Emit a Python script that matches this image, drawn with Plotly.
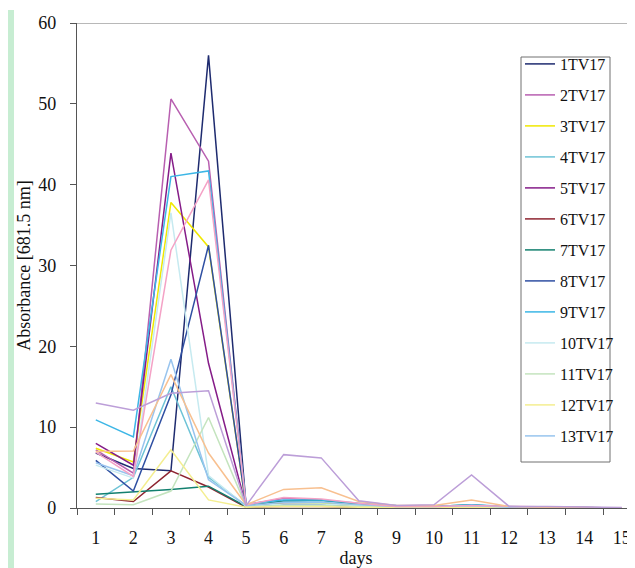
import plotly.graph_objects as go

days = list(range(1, 16))

series_names = ["1TV17", "2TV17", "3TV17", "4TV17", "5TV17", "6TV17", "7TV17",
                "8TV17", "9TV17", "10TV17", "11TV17", "12TV17", "13TV17",
                "14TV17", "15TV17", "16TV17"]

s1 = [6.8, 4.9, 4.6, 56.0, 0.3, 0.5, 0.5, 0.3, 0.1, 0.1, 0.2, 0.1, 0.1, 0.05, 0.0]
s2 = [7.2, 4.3, 50.6, 42.9, 0.4, 1.2, 1.0, 0.5, 0.2, 0.2, 0.3, 0.1, 0.1, 0.05, 0.0]
s3 = [7.4, 5.7, 37.8, 32.3, 0.2, 0.6, 0.6, 0.3, 0.1, 0.1, 0.2, 0.1, 0.1, 0.0, 0.0]
s4 = [0.8, 3.8, 15.0, 3.8, 0.3, 0.8, 0.9, 0.5, 0.2, 0.2, 0.3, 0.1, 0.1, 0.0, 0.0]
s5 = [8.0, 5.3, 43.9, 17.9, 0.2, 0.5, 0.4, 0.2, 0.1, 0.1, 0.2, 0.1, 0.1, 0.0, 0.0]
s6 = [1.3, 0.8, 4.6, 2.6, 0.1, 0.2, 0.2, 0.1, 0.1, 0.0, 0.1, 0.0, 0.0, 0.0, 0.0]
s7 = [1.7, 2.0, 2.3, 2.7, 0.2, 0.9, 1.0, 0.5, 0.2, 0.2, 0.4, 0.1, 0.1, 0.0, 0.0]
s8 = [5.9, 2.1, 14.0, 32.5, 0.2, 0.4, 0.4, 0.2, 0.1, 0.1, 0.2, 0.1, 0.0, 0.0, 0.0]
s9 = [10.9, 8.8, 41.0, 41.7, 0.5, 1.0, 1.0, 0.6, 0.3, 0.2, 0.4, 0.2, 0.1, 0.05, 0.0]
s10 = [5.3, 3.7, 36.5, 4.0, 0.2, 0.5, 0.5, 0.3, 0.1, 0.1, 0.2, 0.1, 0.1, 0.0, 0.0]
s11 = [0.5, 0.4, 2.1, 11.2, 0.2, 0.3, 0.3, 0.2, 0.1, 0.1, 0.1, 0.1, 0.0, 0.0, 0.0]
s12 = [1.2, 1.0, 7.2, 1.0, 0.1, 0.2, 0.2, 0.1, 0.1, 0.0, 0.1, 0.0, 0.0, 0.0, 0.0]
s13 = [5.6, 4.0, 18.4, 3.5, 0.3, 0.7, 0.7, 0.4, 0.2, 0.2, 0.3, 0.1, 0.1, 0.0, 0.0]
s14 = [6.9, 3.9, 31.9, 40.6, 0.4, 1.3, 1.1, 0.6, 0.2, 0.2, 0.3, 0.2, 0.1, 0.05, 0.0]
s15 = [7.0, 7.05, 16.5, 6.8, 0.4, 2.3, 2.5, 0.8, 0.3, 0.3, 1.0, 0.2, 0.1, 0.05, 0.0]
s16 = [13.0, 12.1, 14.2, 14.5, 0.3, 6.6, 6.2, 0.9, 0.3, 0.4, 4.1, 0.2, 0.2, 0.1, 0.05]

values = [s1, s2, s3, s4, s5, s6, s7, s8, s9, s10, s11, s12, s13, s14, s15, s16]
colors = ["#1E2B6F", "#B85FB0", "#F0E800", "#6EC3D6", "#851C88", "#8E2430",
          "#13806F", "#2F4FA2", "#3CB6E6", "#C6EAF0", "#C4E4BE", "#F4EE90",
          "#98C4EE", "#F4A2C6", "#F8C090", "#BC9ED8"]
legend_count = 13

y_ticks = [0, 10, 20, 30, 40, 50, 60]

FONT = "Liberation Serif, Times New Roman, serif"

# page has an 8px body margin; figure sized to fit the 635x568 window
W, H = 627, 560
ML, MR, MT, MB = 69, 0, 15, 60
PW = W - ML - MR
PH = H - MT - MB


def px_x(page_x):
    return (page_x - 8 - ML) / PW


def px_y(page_y):
    return (H - MB - (page_y - 8)) / PH


fig = go.Figure()
for i, (name, vals, col) in enumerate(zip(series_names, values, colors)):
    fig.add_trace(go.Scatter(
        x=days, y=vals, mode="lines", name=name,
        line=dict(color=col, width=1.5),
        showlegend=i < legend_count,
        legendgroup=name,
    ))

fig.update_layout(
    width=W, height=H,
    margin=dict(l=ML, r=MR, t=MT, b=MB),
    paper_bgcolor="white", plot_bgcolor="white",
    font=dict(family=FONT, size=18, color="#111111"),
    showlegend=True,
    legend=dict(
        x=px_x(520), y=px_y(47), xanchor="left", yanchor="top",
        borderwidth=0, bgcolor="rgba(0,0,0,0)",
        font=dict(family=FONT, size=16, color="#111111"),
        tracegroupgap=7.2, itemwidth=30,
    ),
    xaxis=dict(
        range=[0.5, 15.35], tickmode="array", tickvals=days,
        ticktext=[str(d) for d in days],
        ticks="outside", ticklen=13, tickcolor="rgba(0,0,0,0)",
        showline=True, linecolor="#555555", linewidth=1.2,
        showgrid=False, zeroline=False,
        minor=dict(tickmode="array", tickvals=[d - 0.5 for d in days],
                   ticks="outside", ticklen=6, tickcolor="#555555", tickwidth=1),
        title=dict(text="days", standoff=4, font=dict(size=18)),
        tickfont=dict(size=18),
    ),
    yaxis=dict(
        range=[0, 60], tickmode="array", tickvals=y_ticks,
        ticks="outside", ticklen=6, tickcolor="#555555",
        showline=True, linecolor="#555555", linewidth=1.2,
        showgrid=False, zeroline=False,
        ticklabelstandoff=10,
        title=dict(text="Absorbance [681.5 nm]", standoff=2, font=dict(size=18)),
        tickfont=dict(size=18),
    ),
    shapes=[
        dict(type="line", xref="paper", yref="y", x0=0, x1=1, y0=60, y1=60,
             line=dict(color="#A0A0A0", width=1.5)),
        dict(type="rect", xref="paper", yref="paper",
             x0=px_x(8), x1=px_x(14), y0=px_y(568), y1=px_y(10),
             fillcolor="#C7EDD2", line=dict(width=0), layer="below"),
        dict(type="rect", xref="paper", yref="paper",
             x0=px_x(521), x1=px_x(610), y0=px_y(462), y1=px_y(57),
             fillcolor="white", line=dict(color="#707070", width=1), layer="above"),
    ],
)

fig.write_html("out.html")
